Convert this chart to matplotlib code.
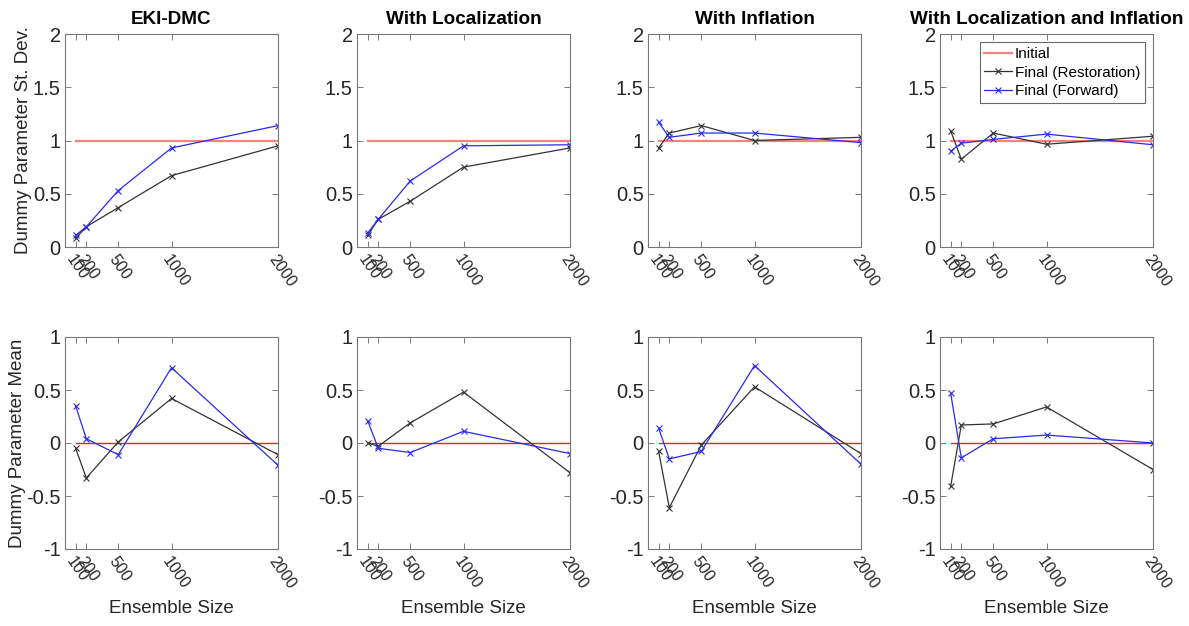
import numpy as np
import matplotlib
matplotlib.use('Agg')
from matplotlib import pyplot as plt

plt.rcParams['font.family'] = ['Liberation Sans', 'DejaVu Sans']

ens_sizes = [100, 200, 500, 1000, 2000]
titles = ['EKI-DMC', 'With Localization', 'With Inflation',
          'With Localization and Inflation']

# top row: st. dev., bottom row: mean
std_restoration = [
    [0.08, 0.19, 0.37, 0.67, 0.95],
    [0.11, 0.26, 0.43, 0.75, 0.93],
    [0.93, 1.07, 1.14, 1.00, 1.03],
    [1.09, 0.825, 1.07, 0.965, 1.04],
]
std_forward = [
    [0.11, 0.19, 0.53, 0.93, 1.14],
    [0.13, 0.26, 0.62, 0.95, 0.96],
    [1.17, 1.03, 1.07, 1.07, 0.98],
    [0.90, 0.975, 1.01, 1.06, 0.96],
]
mean_restoration = [
    [-0.05, -0.33, 0.01, 0.42, -0.11],
    [0.00, -0.03, 0.19, 0.48, -0.28],
    [-0.08, -0.61, -0.02, 0.53, -0.10],
    [-0.41, 0.17, 0.18, 0.34, -0.25],
]
mean_forward = [
    [0.35, 0.04, -0.11, 0.71, -0.21],
    [0.21, -0.05, -0.09, 0.11, -0.10],
    [0.14, -0.15, -0.08, 0.73, -0.20],
    [0.47, -0.14, 0.04, 0.075, 0.00],
]
std_initial = 1.0
mean_initial = 0.0

W, H = 1189, 626
fig = plt.figure(figsize=(W / 100, H / 100), dpi=100)

lefts = [65, 357, 648, 940]
ax_w = 213
rows = [(34, 247), (337, 549)]  # top/bottom pixel of each row

def style_axes(ax, yticks, ylabels):
    ax.set_xlim(0, 2000)
    ax.set_xticks(ens_sizes)
    ax.set_xticklabels([str(v) for v in ens_sizes], rotation=-55,
                       ha='left', va='top', rotation_mode='anchor')
    ax.set_yticks(yticks)
    ax.set_yticklabels(ylabels)
    ax.tick_params(direction='in', top=True, right=True, length=4,
                   width=0.6, colors='#666666', labelcolor='#262626',
                   labelsize=14.5, pad=3)
    ax.tick_params(axis='x', pad=4, labelsize=11.5)
    for s in ax.spines.values():
        s.set_color('#777777')
        s.set_linewidth(0.8)

axes = []
for r, (ytop, ybot) in enumerate(rows):
    for c in range(4):
        ax = fig.add_axes([lefts[c] / W, 1 - ybot / H, ax_w / W, (ybot - ytop) / H])
        if r == 0:
            ax.plot([ens_sizes[0], ens_sizes[-1]], [std_initial, std_initial],
                    color='#ff7f7f', lw=1.6, label='Initial')
            ax.plot(ens_sizes, std_restoration[c], color='#333333', lw=0.9,
                    marker='x', ms=4, mew=0.8, label='Final (Restoration)')
            ax.plot(ens_sizes, std_forward[c], color='#2a2aee', lw=0.9,
                    marker='x', ms=4, mew=0.8, label='Final (Forward)')
            ax.set_ylim(0, 2)
            style_axes(ax, [0, 0.5, 1, 1.5, 2], ['0', '0.5', '1', '1.5', '2'])
            ax.set_title(titles[c], fontsize=13.6, fontweight='bold', pad=7)
            if c == 0:
                ax.set_ylabel('Dummy Parameter St. Dev.', fontsize=13.5,
                              color='#262626', va='center')
                ax.yaxis.set_label_coords(-0.197, 0.5)
            if c == 3:
                leg = ax.legend(loc='upper right', fontsize=11, frameon=True,
                                fancybox=False, borderpad=0.3, labelspacing=0.3,
                                handlelength=1.8, handletextpad=0.2,
                                borderaxespad=0.55)
                leg.get_frame().set_edgecolor('#444444')
                leg.get_frame().set_linewidth(0.8)
        else:
            ax.plot([ens_sizes[0], ens_sizes[-1]], [mean_initial, mean_initial],
                    color='#ee2222', lw=1.0)
            ax.plot(ens_sizes, mean_restoration[c], color='#333333', lw=0.9,
                    marker='x', ms=4, mew=0.8)
            ax.plot(ens_sizes, mean_forward[c], color='#2a2aee', lw=0.9,
                    marker='x', ms=4, mew=0.8)
            ax.set_ylim(-1, 1)
            style_axes(ax, [-1, -0.5, 0, 0.5, 1], ['-1', '-0.5', '0', '0.5', '1'])
            ax.set_xlabel('Ensemble Size', fontsize=13.5, color='#262626', va='center')
            ax.xaxis.set_label_coords(0.5, -0.28)
            if c == 0:
                ax.set_ylabel('Dummy Parameter Mean', fontsize=13.5,
                              color='#262626', va='center')
                ax.yaxis.set_label_coords(-0.225, 0.5)
        axes.append(ax)

fig.savefig('out.png', dpi=100)
